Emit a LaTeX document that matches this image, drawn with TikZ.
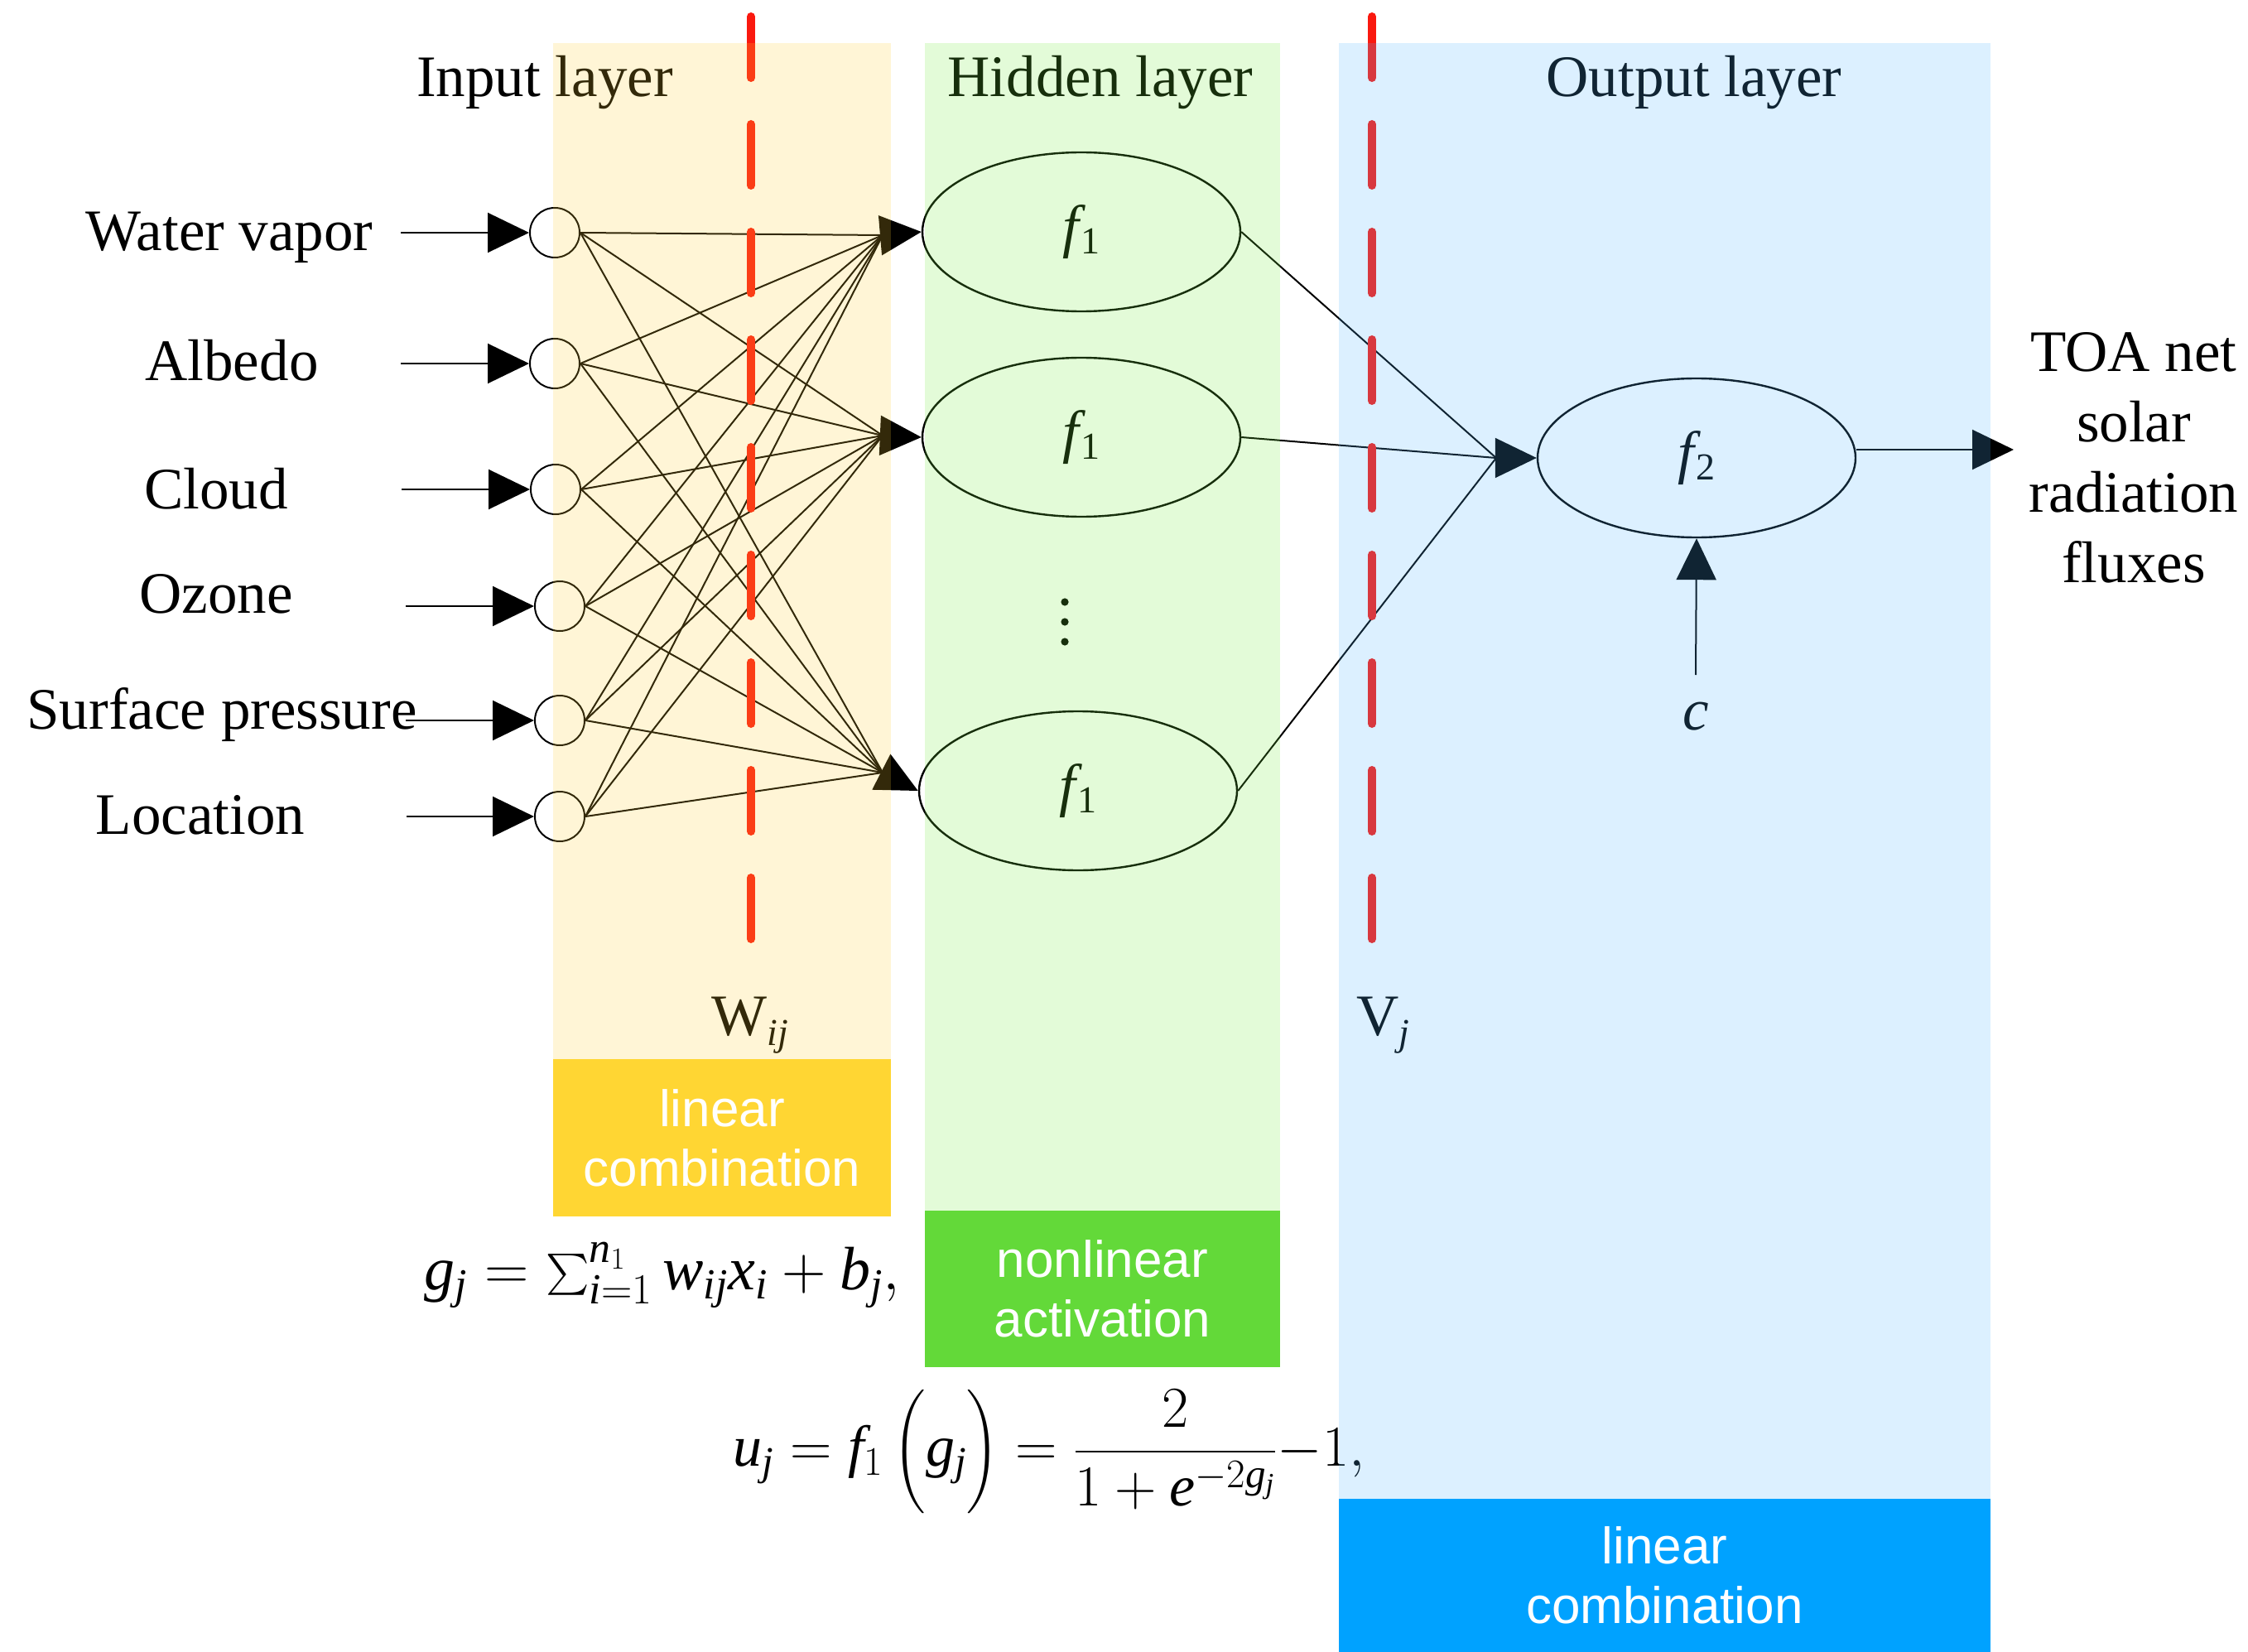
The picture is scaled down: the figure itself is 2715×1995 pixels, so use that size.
\documentclass[tikz,border=0pt]{standalone}
\usepackage{fix-cm}
\usepackage{amsmath}
\usepackage{fontspec}
\setmainfont{Liberation Serif}
\setsansfont{Liberation Sans}
\usetikzlibrary{arrows.meta,shapes.geometric}

\definecolor{cutred}{RGB}{250,25,15}
\definecolor{yelband}{RGB}{255,205,50}
\definecolor{grnband}{RGB}{115,235,60}
\definecolor{bluband}{RGB}{80,180,255}
\definecolor{yeltag}{RGB}{255,214,51}
\definecolor{grntag}{RGB}{99,217,57}
\definecolor{blutag}{RGB}{0,162,255}

% lowered subscripts in the serif text font
\newcommand\fsub[1]{\raisebox{-4.5pt}{\fontsize{23}{23}\selectfont\upshape #1}}
\newcommand\wsub[1]{\raisebox{-6pt}{\fontsize{23}{23}\selectfont\itshape #1}}

\begin{document}
\begin{tikzpicture}[x=0.5pt,y=-0.5pt,
  lbl/.style={font=\fontsize{35.5}{42.5}\selectfont, inner sep=0},
  innode/.style={circle, draw, line width=1pt, minimum size=30pt, inner sep=0},
  hid/.style={ellipse, draw, line width=1.2pt, minimum width=192pt, minimum height=96pt, inner sep=0,
              font=\fontsize{35.5}{42.5}\selectfont},
  conn/.style={line width=1pt},
  arr/.style={line width=1pt, -{Triangle[length=25pt,width=24pt]}},
  cut/.style={draw=cutred, line width=5pt, line cap=round, dash pattern=on 37pt off 28pt},
  tagbox/.style={inner sep=0, align=center, text=white,
                 font=\sffamily\fontsize{31}{36}\selectfont},
  formula/.style={inner sep=0, anchor=west}
]
\useasboundingbox (0,0) rectangle (2715,1995);

% ---------- input layer ----------
\node[lbl, anchor=base] (inlayer) at (658,117) {Input layer};
\node[innode] (i1) at (670,281) {};
\node[innode] (i2) at (670,439) {};
\node[innode] (i3) at (671,591) {};
\node[innode] (i4) at (676,732) {};
\node[innode] (i5) at (676,870) {};
\node[innode] (i6) at (676,986) {};

\node[lbl, anchor=base] (l1) at (277,303) {Water vapor};
\node[lbl, anchor=base] (l2) at (280,459) {Albedo};
\node[lbl, anchor=base] (l3) at (261,614) {Cloud};
\node[lbl, anchor=base] (l4) at (261,740) {Ozone};
\node[lbl, anchor=base] (l5) at (268,880) {Surface pressure};
\node[lbl, anchor=base] (l6) at (242,1007) {Location};

\coordinate (s1) at (484,281);
\coordinate (s2) at (484,439);
\coordinate (s3) at (485,591);
\coordinate (s4) at (490,732);
\coordinate (s5) at (490,870);
\coordinate (s6) at (491,986);
\foreach \k in {1,...,6} {\draw[arr] (s\k) -- (i\k.west);}

% ---------- hidden layer ----------
\node[lbl, anchor=base] (hidlayer) at (1329,117) {Hidden layer};
\node[hid] (h1) at (1306,280) {\itshape f\kern1pt\fsub{1}};
\node[hid] (h2) at (1306,528) {\itshape f\kern1pt\fsub{1}};
\node[hid] (h3) at (1302,955) {\itshape f\kern1pt\fsub{1}};
\foreach \yy in {727,751,775} {\fill (1286,\yy) circle (2.3pt);}

\coordinate (g1) at (1066,284);
\coordinate (g2) at (1066,526);
\coordinate (g3) at (1066,933);
\foreach \k in {1,...,6} {
  \foreach \j in {1,2,3} {\draw[conn] (i\k.east) -- (g\j);}
}
\foreach \j in {1,2,3} {\draw[arr] (g\j) -- (h\j.west);}

% ---------- output layer ----------
\node[lbl, anchor=base] (outlayer) at (2046,117) {Output layer};
\node[hid] (f2) at (2049,553) {\itshape f\kern1pt\fsub{2}};
\coordinate (m) at (1807,553);
\foreach \j in {1,2,3} {\draw[conn] (h\j.east) -- (m);}
\draw[arr] (m) -- (f2.west);

\node[lbl] (c) at (2048,865) {\itshape c};
\coordinate (cbot) at (2048,815);
\draw[arr] (cbot) -- (f2.south);

\coordinate (out) at (2432,543);
\draw[arr] (f2.east |- out) -- (out);
\node[lbl, align=center] (toa) at (2577,553) {TOA net\\solar\\radiation\\fluxes};

% ---------- weights ----------
\node[lbl, anchor=base west] (wij) at (859,1250) {W\wsub{ij}};
\node[lbl, anchor=base west] (vj) at (1638,1250) {V\wsub{j}};

% ---------- dividing lines ----------
\draw[cut] (907,20) -- (907,1134);
\draw[cut] (1657,20) -- (1657,1134);

% ---------- formulas ----------
\node[formula, font=\fontsize{37}{44}\selectfont] (eqg) at (512,1540)
  {$\mathit{g}_{\mathit{j}} = \sum\nolimits_{\mathit{i}=1}^{\mathit{n}_1}\mathit{w}_{\mathit{ij}}\mathit{x}_{\mathit{i}} + \mathit{b}_{\mathit{j}},$};
\node[formula, font=\fontsize{35}{42}\selectfont] (equ) at (885,1753)
  {$\mathit{u}_{\mathit{j}} = \mathit{f}_1\left(\vphantom{\dfrac{2}{1+e^{-2g}}}\mathit{g}_{\mathit{j}}\right) = \dfrac{2}{1+\mathit{e}^{-2\mathit{g}_{\mathit{j}}}}{-}1,$};

% ---------- translucent layer bands ----------
\fill[yelband, fill opacity=0.2] (668,52) rectangle (1076,1279);
\fill[grnband, fill opacity=0.2] (1117,52) rectangle (1546,1462);
\fill[bluband, fill opacity=0.2] (1617,52) rectangle (2404,1810);

% ---------- operation tags ----------
\node[tagbox, fill=yeltag, minimum width=204pt, minimum height=95pt] (tag1) at (872,1374) {linear\\combination};
\node[tagbox, fill=grntag, minimum width=214.5pt, minimum height=94.5pt] (tag2) at (1331.5,1556.5) {nonlinear\\activation};
\node[tagbox, fill=blutag, minimum width=393.5pt, minimum height=92.5pt] (tag3) at (2010.5,1902.5) {linear\\combination};
\end{tikzpicture}
\end{document}
